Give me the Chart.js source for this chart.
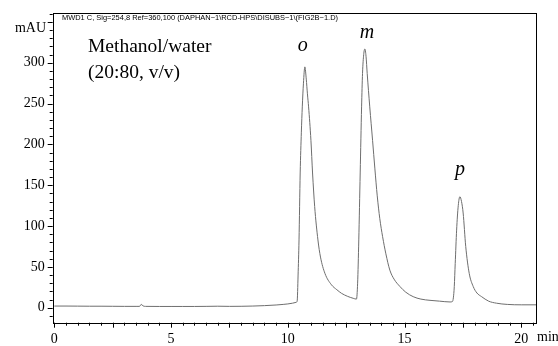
<!DOCTYPE html>
<html>
<head>
<meta charset="utf-8">
<script src="https://cdn.jsdelivr.net/npm/chart.js@4"></script>
<style>
html,body{margin:0;padding:0;background:#fff;}
#wrap{width:558px;height:346px;position:relative;}
</style>
</head>
<body>
<div id="wrap"><canvas id="c" width="558" height="346"></canvas></div>
<script>
// retention time (min)
const times = [0, 0.5, 1, 1.5, 2, 2.5, 3, 3.5, 3.65, 3.72, 3.8, 3.9, 4.5, 5, 5.5, 6, 6.5, 7, 7.5, 8, 8.5, 9, 9.5, 9.8, 10.0, 10.2, 10.35,
  10.40, 10.44, 10.48, 10.53, 10.58, 10.62, 10.67, 10.73, 10.79, 10.84, 10.89, 10.99, 11.06, 11.15, 11.29, 11.40, 11.59, 11.87, 12.10, 12.30, 12.55, 12.80, 12.94,
  12.99, 13.04, 13.10, 13.16, 13.20, 13.25, 13.30, 13.35, 13.40, 13.51, 13.63, 13.73, 13.83, 13.94, 14.06, 14.20, 14.37, 14.55, 14.80, 15.05, 15.37, 15.7, 16.09, 16.5, 16.95,
  17.05, 17.09, 17.13, 17.17, 17.23, 17.30, 17.37, 17.44, 17.51, 17.62, 17.77, 17.94, 18.10, 18.30, 18.60, 18.94, 19.4, 20, 20.63];
// absorbance (mAU)
const absorbance = [2, 2, 1.9, 1.8, 1.8, 1.7, 1.6, 1.6, 1.6, 4, 2.2, 1.6, 1.5, 1.5, 1.5, 1.5, 1.6, 1.8, 1.6, 1.7, 2.0, 2.5, 3.3, 4.0, 4.6, 5.5, 6.5,
  8, 40, 83, 165, 215, 246, 275, 295, 280, 262, 246, 205, 165, 124, 83, 62, 42, 28, 22, 17.6, 14, 11.5, 10.5,
  30, 83, 165, 246, 287, 310, 317, 308, 287, 246, 205, 170, 137, 109, 87, 66, 46, 35, 26, 19, 13.5, 10.5, 9, 8, 7,
  7.5, 12, 26, 54, 95, 125, 136, 130, 116, 75, 42, 26, 18, 13.5, 8, 5.5, 4, 3.5, 3.5];

const xTickValues = [0, 5, 10, 15, 20];
const xTickLabels = ['0', '5', '10', '15', '20'];
const yTickValues = [0, 50, 100, 150, 200, 250, 300];
const yTickLabels = ['0', '50', '100', '150', '200', '250', '300'];
const yUnit = 'mAU';
const peakNames = ['o', 'm', 'p'];
const peakTimes = [10.73, 13.30, 17.37];
const peakHeights = [295, 317, 136];
const headerText = 'MWD1 C, Sig=254,8 Ref=360,100 (DAPHAN~1\\RCD-HPS\\DISUBS~1\\(FIG2B~1.D)';
const solventLines = ['Methanol/water', '(20:80, v/v)'];
const xUnit = 'min';

const serif = '"Liberation Serif", "Times New Roman", serif';

const decor = {
  id: 'decor',
  afterDraw(chart) {
    const ctx = chart.ctx;
    const a = chart.chartArea;
    const xs = chart.scales.x, ys = chart.scales.y;
    ctx.save();
    ctx.strokeStyle = '#000';
    ctx.lineWidth = 1;
    // frame
    ctx.strokeRect(Math.round(a.left) + 0.5, Math.round(a.top) + 0.5, Math.round(a.right - a.left), Math.round(a.bottom - a.top));
    // y ticks
    ctx.beginPath();
    for (let v = -10; v <= 360; v += 10) {
      const py = Math.round(ys.getPixelForValue(v)) + 0.5;
      if (py < a.top || py > a.bottom) continue;
      const len = (v % 50 === 0) ? 5 : 3;
      ctx.moveTo(a.left, py); ctx.lineTo(a.left - len, py);
    }
    // x ticks
    for (let k = 0; k <= 41; k++) {
      const v = k * 0.5;
      const px = Math.round(xs.getPixelForValue(v)) + 0.5;
      if (px < a.left || px > a.right) continue;
      const len = (k % 5 === 0) ? 5 : 3;
      ctx.moveTo(px, a.bottom); ctx.lineTo(px, a.bottom + len);
    }
    ctx.stroke();
    // header
    ctx.fillStyle = '#000';
    ctx.font = '8px "Liberation Sans", Arial, sans-serif';
    ctx.textBaseline = 'middle';
    ctx.textAlign = 'left';
    const w = ctx.measureText(headerText).width;
    ctx.save();
    ctx.translate(62, 17.5);
    ctx.scale(276 / w, 1);
    ctx.fillText(headerText, 0, 0);
    ctx.restore();
    // y unit
    ctx.font = '14px ' + serif;
    ctx.textAlign = 'right';
    ctx.fillText(yUnit, 46, 28);
    // solvent label
    ctx.font = '19.5px ' + serif;
    ctx.textAlign = 'left';
    ctx.textBaseline = 'alphabetic';
    ctx.fillText(solventLines[0], 88, 52);
    ctx.fillText(solventLines[1], 88, 78);
    // peak labels
    ctx.font = 'italic 20px ' + serif;
    ctx.textAlign = 'center';
    const offs = [[-2, -16], [2, -11], [0, -22]];
    for (let i = 0; i < peakNames.length; i++) {
      const px = xs.getPixelForValue(peakTimes[i]) + offs[i][0];
      const py = ys.getPixelForValue(peakHeights[i]) + offs[i][1];
      ctx.fillText(peakNames[i], px, py);
    }
    // x unit
    ctx.font = '14px ' + serif;
    ctx.textAlign = 'left';
    ctx.textBaseline = 'middle';
    ctx.fillText(xUnit, 537, 337);
    ctx.restore();
  }
};

new Chart(document.getElementById('c'), {
  type: 'line',
  data: {
    datasets: [{
      data: times.map((t, i) => ({x: t, y: absorbance[i]})),
      borderColor: '#6e6e6e',
      borderWidth: 1,
      pointRadius: 0,
      fill: false,
      cubicInterpolationMode: 'monotone'
    }]
  },
  options: {
    responsive: false,
    animation: false,
    events: [],
    layout: {padding: {top: 13, right: 22, left: 0, bottom: 0}},
    plugins: {legend: {display: false}, tooltip: {enabled: false}},
    scales: {
      x: {
        type: 'linear',
        min: -0.07, max: 20.63,
        grid: {display: false},
        border: {display: false},
        afterFit(s) { s.height = 23.3; },
        afterBuildTicks(s) { s.ticks = xTickValues.map(v => ({value: v})); },
        ticks: {
          padding: 0,
          maxRotation: 0,
          autoSkip: false,
          color: '#000',
          font: {family: serif, size: 14},
          callback: (v) => { const i = xTickValues.indexOf(v); return i >= 0 ? xTickLabels[i] : ''; }
        }
      },
      y: {
        min: -18.4, max: 361,
        grid: {display: false},
        border: {display: false},
        afterFit(s) { s.width = 52.7; },
        afterBuildTicks(s) { s.ticks = yTickValues.map(v => ({value: v})); },
        ticks: {
          padding: 0,
          autoSkip: false,
          color: '#000',
          font: {family: serif, size: 14},
          callback: (v) => { const i = yTickValues.indexOf(v); return i >= 0 ? yTickLabels[i] : ''; }
        }
      }
    }
  },
  plugins: [decor]
});
</script>
</body>
</html>
